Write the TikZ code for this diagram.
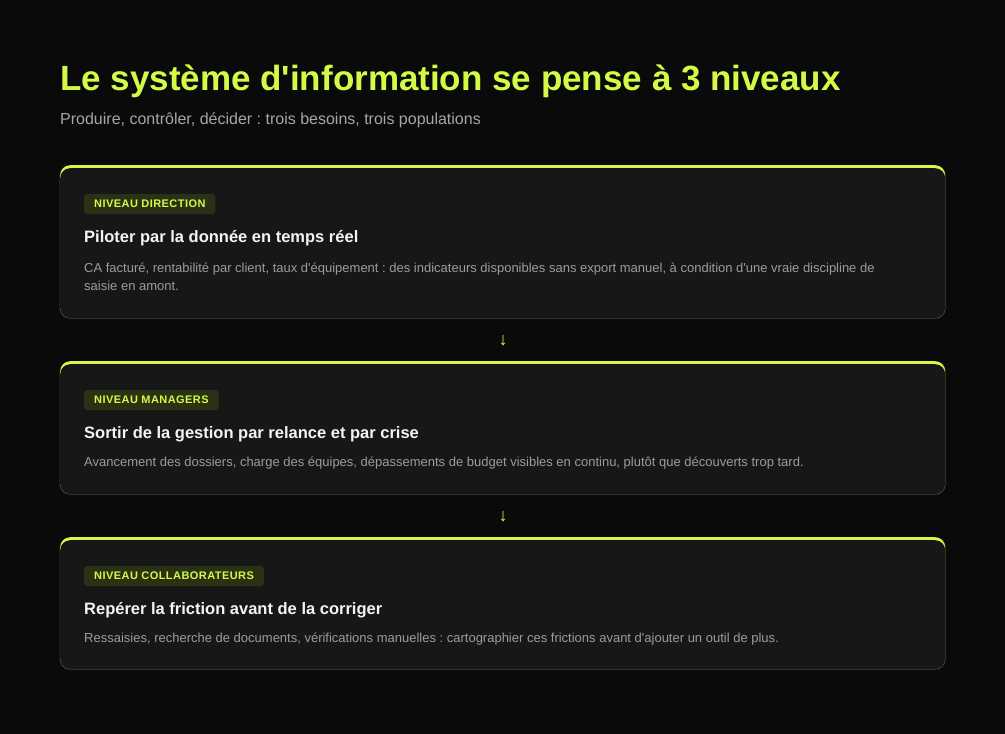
\documentclass[tikz,border=0pt]{standalone}
\usepackage{fontspec}
\setmainfont{Liberation Sans}
\usepackage{tikz}
\usetikzlibrary{positioning,backgrounds}
\definecolor{bg}{HTML}{0A0A0A}
\definecolor{cardbg}{HTML}{171717}
\definecolor{cardline}{HTML}{1D1D1D}
\definecolor{lime}{HTML}{D2FA46}
\definecolor{badgebg}{HTML}{2A3114}
\definecolor{bodygray}{HTML}{9C9C9C}
\definecolor{subgray}{HTML}{A6A6A6}
\definecolor{headwhite}{HTML}{F4F4F4}
\frenchspacing

\begin{document}
\begin{tikzpicture}[x=1pt,y=-1pt,
cardedge/.style={fill=cardline, rounded corners=11pt, minimum width=887pt, inner sep=0pt, anchor=north west},
cardtop/.style={fill=lime, rounded corners=10pt, minimum width=885pt, inner sep=0pt, anchor=north west},
card/.style={fill=cardbg, rounded corners=10pt, minimum width=885pt, inner sep=0pt, anchor=north west},
badge/.style={fill=badgebg, rounded corners=3pt, text=lime,
    font=\fontsize{11}{13}\selectfont\bfseries\addfontfeature{LetterSpace=4},
    inner xsep=10pt, minimum height=20pt, anchor=west},
heading/.style={text=headwhite, font=\fontsize{16.5}{20}\selectfont\bfseries, inner sep=0pt, anchor=west},
body/.style={text=bodygray, font=\fontsize{13}{18}\selectfont, inner sep=0pt, anchor=north west, align=left},
flow/.style={text=lime, font=\fontsize{18}{20}\selectfont}]
\fill[bg] (0,0) rectangle (1005,734);
\useasboundingbox (0,0) rectangle (1005,734);
% titre
\node[anchor=base west, inner sep=0pt, text=lime, font=\fontsize{35}{40}\selectfont\bfseries] (title) at (60,90)
  {Le système d\textquotesingle information se pense à 3 niveaux};
\node[anchor=west, inner sep=0pt, text=subgray, font=\fontsize{16}{19}\selectfont] (subtitle) at (60,120)
  {Produire, contrôler, décider : trois besoins, trois populations};
% niveau direction
\node[cardedge, minimum height=154pt] at (59,165) {};
\node[cardtop, minimum height=153pt] at (60,165) {};
\node[card, minimum height=150pt] (card1) at (60,168) {};
\node[badge] (badge1) at (84,204) {NIVEAU DIRECTION};
\node[heading] (head1) at (84,238.5) {Piloter par la donnée en temps réel};
\node[body] (body1) at (84,263) {CA facturé, rentabilité par client, taux d\textquotesingle équipement : des indicateurs disponibles sans export manuel, à condition d\textquotesingle une vraie discipline de\\saisie en amont.};
% niveau managers
\node[cardedge, minimum height=134pt] at (59,361) {};
\node[cardtop, minimum height=133pt] at (60,361) {};
\node[card, minimum height=130pt] (card2) at (60,364) {};
\node[badge] (badge2) at (84,400) {NIVEAU MANAGERS};
\node[heading] (head2) at (84,434.5) {Sortir de la gestion par relance et par crise};
\node[body] (body2) at (84,457) {Avancement des dossiers, charge des équipes, dépassements de budget visibles en continu, plutôt que découverts trop tard.};
% niveau collaborateurs
\node[cardedge, minimum height=133pt] at (59,537) {};
\node[cardtop, minimum height=132pt] at (60,537) {};
\node[card, minimum height=129pt] (card3) at (60,540) {};
\node[badge] (badge3) at (84,576) {NIVEAU COLLABORATEURS};
\node[heading] (head3) at (84,610.5) {Repérer la friction avant de la corriger};
\node[body] (body3) at (84,633) {Ressaisies, recherche de documents, vérifications manuelles : cartographier ces frictions avant d\textquotesingle ajouter un outil de plus.};
% fleches
\node[flow] (arrow1) at (503,341) {↓};
\node[flow] (arrow2) at (503,517) {↓};
\end{tikzpicture}
\end{document}
